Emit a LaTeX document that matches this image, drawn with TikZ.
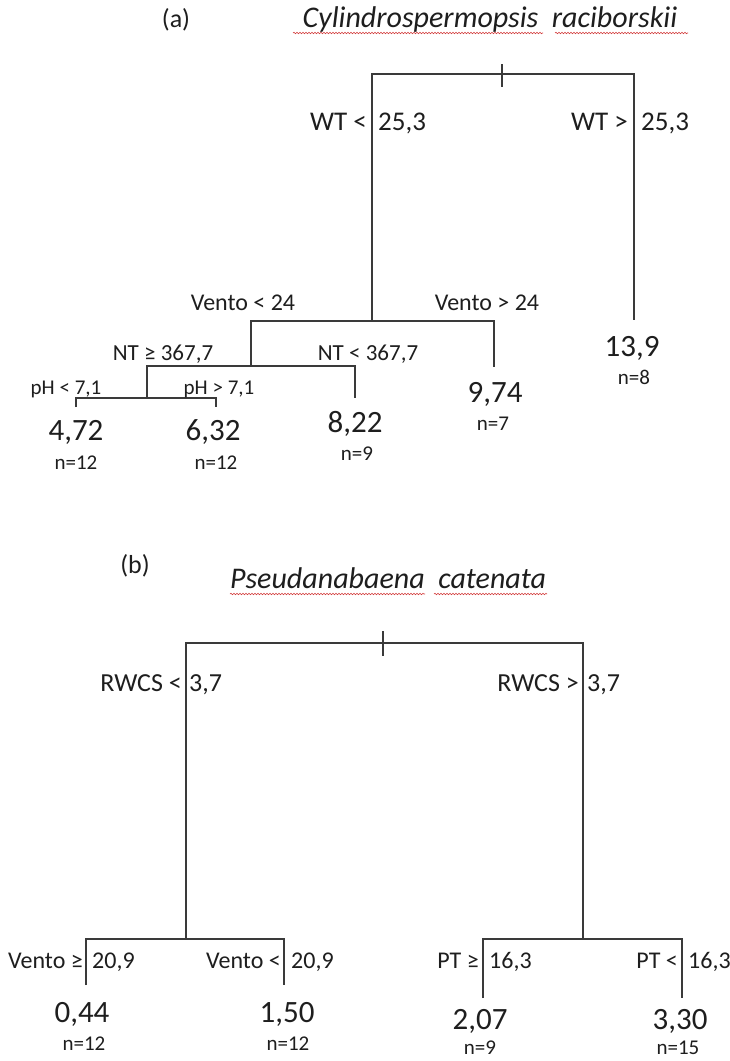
\documentclass[tikz,border=0pt]{standalone}
\usepackage{fontspec}
\setmainfont{Carlito}
\usetikzlibrary{decorations.pathmorphing}
\definecolor{linecol}{HTML}{3A3A3A}
\definecolor{txtcol}{HTML}{1E1E1E}
\definecolor{squig}{HTML}{D23A3A}
\begin{document}
\begin{tikzpicture}[x=1pt,y=-1pt,
  br/.style={draw=linecol,line width=1.9pt,line join=miter},
  txt/.style={inner sep=0pt,text=txtcol},
  big/.style={txt,font=\fontsize{31}{34}\selectfont},
  nn/.style={txt,font=\fontsize{21}{23}\selectfont},
  c21/.style={txt,font=\fontsize{21}{23}\selectfont},
  c23/.style={txt,font=\fontsize{23}{25}\selectfont},
  c24/.style={txt,font=\fontsize{24}{26}\selectfont},
  c26/.style={txt,font=\fontsize{26}{28}\selectfont},
  c27/.style={txt,font=\fontsize{27}{29}\selectfont},
  ttl/.style={txt,font=\fontsize{30}{33}\selectfont\itshape},
  wavy/.style={draw=squig,line width=0.6pt,decorate,decoration={snake,amplitude=0.7pt,segment length=3pt}}
]
\useasboundingbox[fill=white] (0,0) rectangle (729,1061);

% ---------------- panel (a) ----------------
\node[c26,anchor=base] (pa) at (176,27) {(a)};
\node[ttl,anchor=base] (ta) at (490,27) {Cylindrospermopsis\ \ raciborskii};
\coordinate (ta1s) at (293,33); \coordinate (ta1e) at (543,33);
\coordinate (ta2s) at (555,33); \coordinate (ta2e) at (688,33);
\draw[wavy] (ta1s) -- (ta1e);
\draw[wavy] (ta2s) -- (ta2e);

% tree coordinates
\coordinate (aTL) at (372,74);
\coordinate (aTR) at (634,74);
\coordinate (aTickT) at (502,64);
\coordinate (aTickB) at (502,87);
\coordinate (aVL) at (251,321);
\coordinate (aVR) at (494,321);
\coordinate (aVM) at (372,321);
\coordinate (aRend) at (634,320);
\coordinate (aVRend) at (494,367);
\coordinate (aNL) at (147,366);
\coordinate (aNR) at (355,366);
\coordinate (aNM) at (251,366);
\coordinate (aNRend) at (355,398);
\coordinate (aPL) at (76,398);
\coordinate (aPR) at (216,398);
\coordinate (aPM) at (147,398);
\coordinate (aPLend) at (76,407);
\coordinate (aPRend) at (216,407);

\draw[br] (aVM) -- (aTL) -- (aTR) -- (aRend);
\draw[br] (aTickT) -- (aTickB);
\draw[br] (aNM) -- (aVL) -- (aVR) -- (aVRend);
\draw[br] (aPM) -- (aNL) -- (aNR) -- (aNRend);
\draw[br] (aPLend) -- (aPL) -- (aPR) -- (aPRend);

% split labels
\node[c27,anchor=base east] (wtl1) at (367,130) {WT <};
\node[c27,anchor=base west] (wtl2) at (378,130) {25,3};
\node[c27,anchor=base east] (wtr1) at (628,130) {WT >};
\node[c27,anchor=base west] (wtr2) at (641,130) {25,3};

\node[c24,anchor=base] (vl) at (243,310) {Vento < 24};
\node[c24,anchor=base] (vr) at (487,310) {Vento > 24};
\node[c23,anchor=base] (ntl) at (163,360) {NT ≥ 367,7};
\node[c23,anchor=base] (ntr) at (368,360) {NT < 367,7};
\node[c21,anchor=base] (phl) at (66,394) {pH < 7,1};
\node[c21,anchor=base] (phr) at (219,394) {pH > 7,1};

\node[big,anchor=base] (v1) at (76,440) {4,72};
\node[nn,anchor=base] (n1) at (76,469) {n=12};
\node[big,anchor=base] (v2) at (213,440) {6,32};
\node[nn,anchor=base] (n2) at (216,469) {n=12};
\node[big,anchor=base] (v3) at (355,432) {8,22};
\node[nn,anchor=base] (n3) at (357,460) {n=9};
\node[big,anchor=base] (v4) at (495,402) {9,74};
\node[nn,anchor=base] (n4) at (493,430) {n=7};
\node[big,anchor=base] (v5) at (632,356) {13,9};
\node[nn,anchor=base] (n5) at (634,384) {n=8};

% ---------------- panel (b) ----------------
\node[c26,anchor=base] (pb) at (135,573) {(b)};
\node[ttl,anchor=base] (tb) at (388,588) {Pseudanabaena\ \ catenata};
\coordinate (tb1s) at (230,594); \coordinate (tb1e) at (425,594);
\coordinate (tb2s) at (434,594); \coordinate (tb2e) at (547,594);
\draw[wavy] (tb1s) -- (tb1e);
\draw[wavy] (tb2s) -- (tb2e);

\coordinate (bTL) at (186,643);
\coordinate (bTR) at (583,643);
\coordinate (bTickT) at (383,631);
\coordinate (bTickB) at (383,656);
\coordinate (bLM) at (186,939);
\coordinate (bRM) at (583,939);
\coordinate (bLL) at (86,939);
\coordinate (bLR) at (284,939);
\coordinate (bLLend) at (86,985);
\coordinate (bLRend) at (284,985);
\coordinate (bRL) at (483,939);
\coordinate (bRR) at (682,939);
\coordinate (bRLend) at (483,998);
\coordinate (bRRend) at (682,998);

\draw[br] (bLM) -- (bTL) -- (bTR) -- (bRM);
\draw[br] (bTickT) -- (bTickB);
\draw[br] (bLLend) -- (bLL) -- (bLR) -- (bLRend);
\draw[br] (bRLend) -- (bRL) -- (bRR) -- (bRRend);

\node[c26,anchor=base east] (rl1) at (182,691) {RWCS <};
\node[c26,anchor=base west] (rl2) at (189,691) {3,7};
\node[c26,anchor=base east] (rr1) at (579,691) {RWCS >};
\node[c26,anchor=base west] (rr2) at (587,691) {3,7};

\node[c24,anchor=base east] (vbl1) at (83,968) {Vento ≥};
\node[c24,anchor=base west] (vbl2) at (92,968) {20,9};
\node[c24,anchor=base east] (vbr1) at (281,968) {Vento <};
\node[c24,anchor=base west] (vbr2) at (291,968) {20,9};
\node[c24,anchor=base east] (ptl1) at (479,968) {PT ≥};
\node[c24,anchor=base west] (ptl2) at (489,968) {16,3};
\node[c24,anchor=base east] (ptr1) at (678,968) {PT <};
\node[c24,anchor=base west] (ptr2) at (688,968) {16,3};

\node[big,anchor=base] (w1) at (82,1022) {0,44};
\node[nn,anchor=base] (m1) at (84,1050) {n=12};
\node[big,anchor=base] (w2) at (287,1022) {1,50};
\node[nn,anchor=base] (m2) at (288,1050) {n=12};
\node[big,anchor=base] (w3) at (480,1029) {2,07};
\node[nn,anchor=base] (m3) at (480,1054) {n=9};
\node[big,anchor=base] (w4) at (680,1029) {3,30};
\node[nn,anchor=base] (m4) at (678,1054) {n=15};
\end{tikzpicture}
\end{document}
